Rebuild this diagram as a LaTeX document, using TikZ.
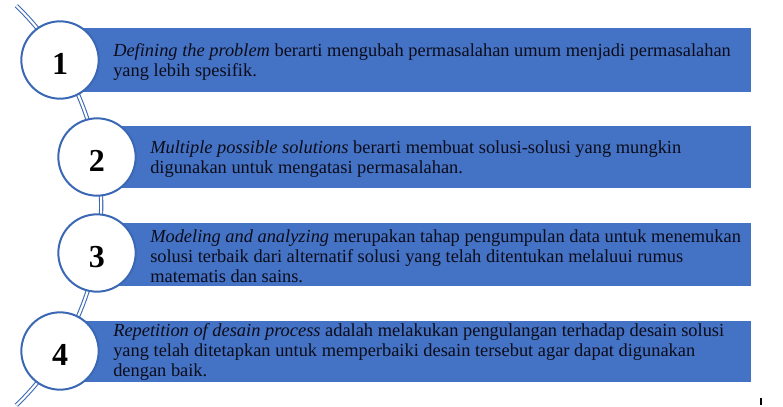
\documentclass[tikz,border=0pt]{standalone}
\usepackage{fontspec}
\setmainfont{Liberation Serif}
\definecolor{boxblue}{HTML}{4472C4}
\definecolor{ringblue}{HTML}{3A68B4}
\definecolor{txtdark}{HTML}{0C0C1A}
\tikzset{
  numring/.style={circle, draw=ringblue, line width=1.5pt, fill=white, minimum size=58pt, inner sep=0pt,
    font=\fontsize{24}{26}\selectfont\bfseries, text height=22pt, text depth=0pt},
  steptext/.style={anchor=west, align=left, inner sep=0pt, text=txtdark,
    font=\fontsize{13.8}{15}\selectfont},
}
\begin{document}
\begin{tikzpicture}[x=0.75pt, y=-0.75pt]
  \useasboundingbox (0,0) rectangle (783,407);
  % backbone arc
  \draw[draw=ringblue, line width=0.8pt, double=white, double distance=1.6pt]
    (16.4,5.8) arc[start angle=-46, end angle=46, radius=277.6];
  % bars
  \fill[boxblue] (60,28) rectangle (751,92);
  \fill[boxblue] (97,126) rectangle (751,188);
  \fill[boxblue] (97,223) rectangle (751,286);
  \fill[boxblue] (60,321) rectangle (751,382);
  % numbered rings
  \node[numring] (n1) at (60,60) {1};
  \node[numring] (n2) at (97,157) {2};
  \node[numring] (n3) at (97,253) {3};
  \node[numring] (n4) at (60,351) {4};
  % texts
  \node[steptext] (t1) at (113,62) {\textit{Defining the problem} berarti mengubah permasalahan umum menjadi permasalahan\\yang lebih spesifik.};
  \node[steptext] (t2) at (150,159) {\textit{Multiple possible solutions} berarti membuat solusi-solusi yang mungkin\\digunakan untuk mengatasi permasalahan.};
  \node[steptext] (t3) at (150,256) {\textit{Modeling and analyzing} merupakan tahap pengumpulan data untuk menemukan\\solusi terbaik dari alternatif solusi yang telah ditentukan melaluui rumus\\matematis dan sains.};
  \node[steptext] (t4) at (113,352) {\textit{Repetition of desain process} adalah melakukan pengulangan terhadap desain solusi\\yang telah ditetapkan untuk memperbaiki desain tersebut agar dapat digunakan\\dengan baik.};
  \draw[line width=0.8pt] (761,398) -- (761,405);
\end{tikzpicture}
\end{document}
